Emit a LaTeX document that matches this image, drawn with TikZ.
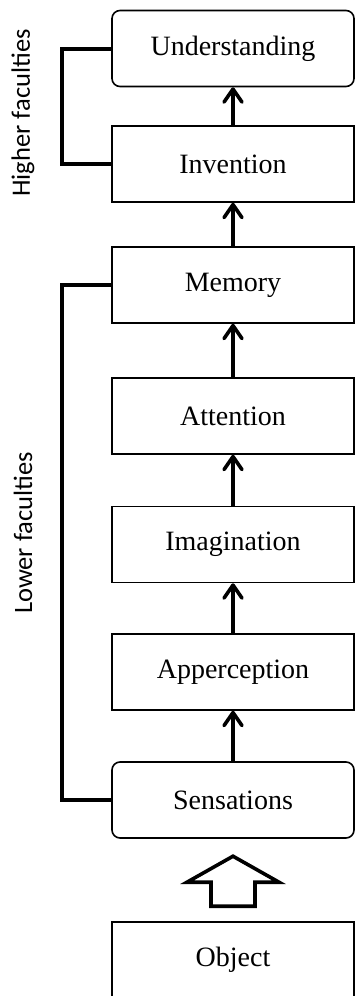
\documentclass[tikz,border=0pt]{standalone}
\usepackage{fontspec}
\setmainfont{Liberation Serif}
\newfontfamily\sidefont{Carlito}
\usetikzlibrary{arrows.meta}

\begin{document}
\begin{tikzpicture}
	[
	x=1pt,y=-1pt,
	faculty/.style={rectangle,draw,line width=1.6pt,minimum width=242pt,minimum height=76pt,inner sep=0pt,text centered,font=\fontsize{28}{33}\selectfont},
	rounded/.style={faculty,rounded corners=8pt},
	link/.style={line width=3.6pt,-{Straight Barb[length=13pt,width=18pt,line cap=round,line join=round]}},
	group/.style={line width=4pt,line join=miter},
	side/.style={rotate=90,font=\sidefont\fontsize{26.5}{32}\selectfont},
	hollow/.style={draw,line width=3.6pt,line join=miter,fill=white},
	]
	\useasboundingbox (0,0) rectangle (354,996);
	\node[rounded] (understanding) at (233,48.5) {Understanding};
	\node[faculty] (invention) at (233,164) {Invention};
	\node[faculty] (memory) at (233,285) {Memory};
	\node[faculty] (attention) at (233,416) {Attention};
	\node[faculty] (imagination) at (233,544.5) {Imagination};
	\node[faculty] (apperception) at (233,672) {Apperception};
	\node[rounded] (sensations) at (233,800) {Sensations};
	\node[faculty] (object) at (233,960) {Object};
	% arrows up the chain
	\draw[link] (sensations) -- (apperception);
	\draw[link] (apperception) -- (imagination);
	\draw[link] (imagination) -- (attention);
	\draw[link] (attention) -- (memory);
	\draw[link] (memory) -- (invention);
	\draw[link] (invention) -- (understanding);
	% brackets and their labels
	\draw[group] (understanding.west) -- ++(-49,0) |- (invention.west);
	\draw[group] (memory.west) -- ++(-49,0) |- (sensations.west);
	\node[side] (higher) at (23,113) {Higher faculties};
	\node[side] (lower) at (23,533) {Lower faculties};
	% block arrow from the object
	\draw[hollow,shift={(object.north)}] (-22,-15) -- (-22,-39) -- (-46,-39) -- (0,-65) -- (46,-39) -- (22,-39) -- (22,-15) -- cycle;
\end{tikzpicture}
\end{document}
